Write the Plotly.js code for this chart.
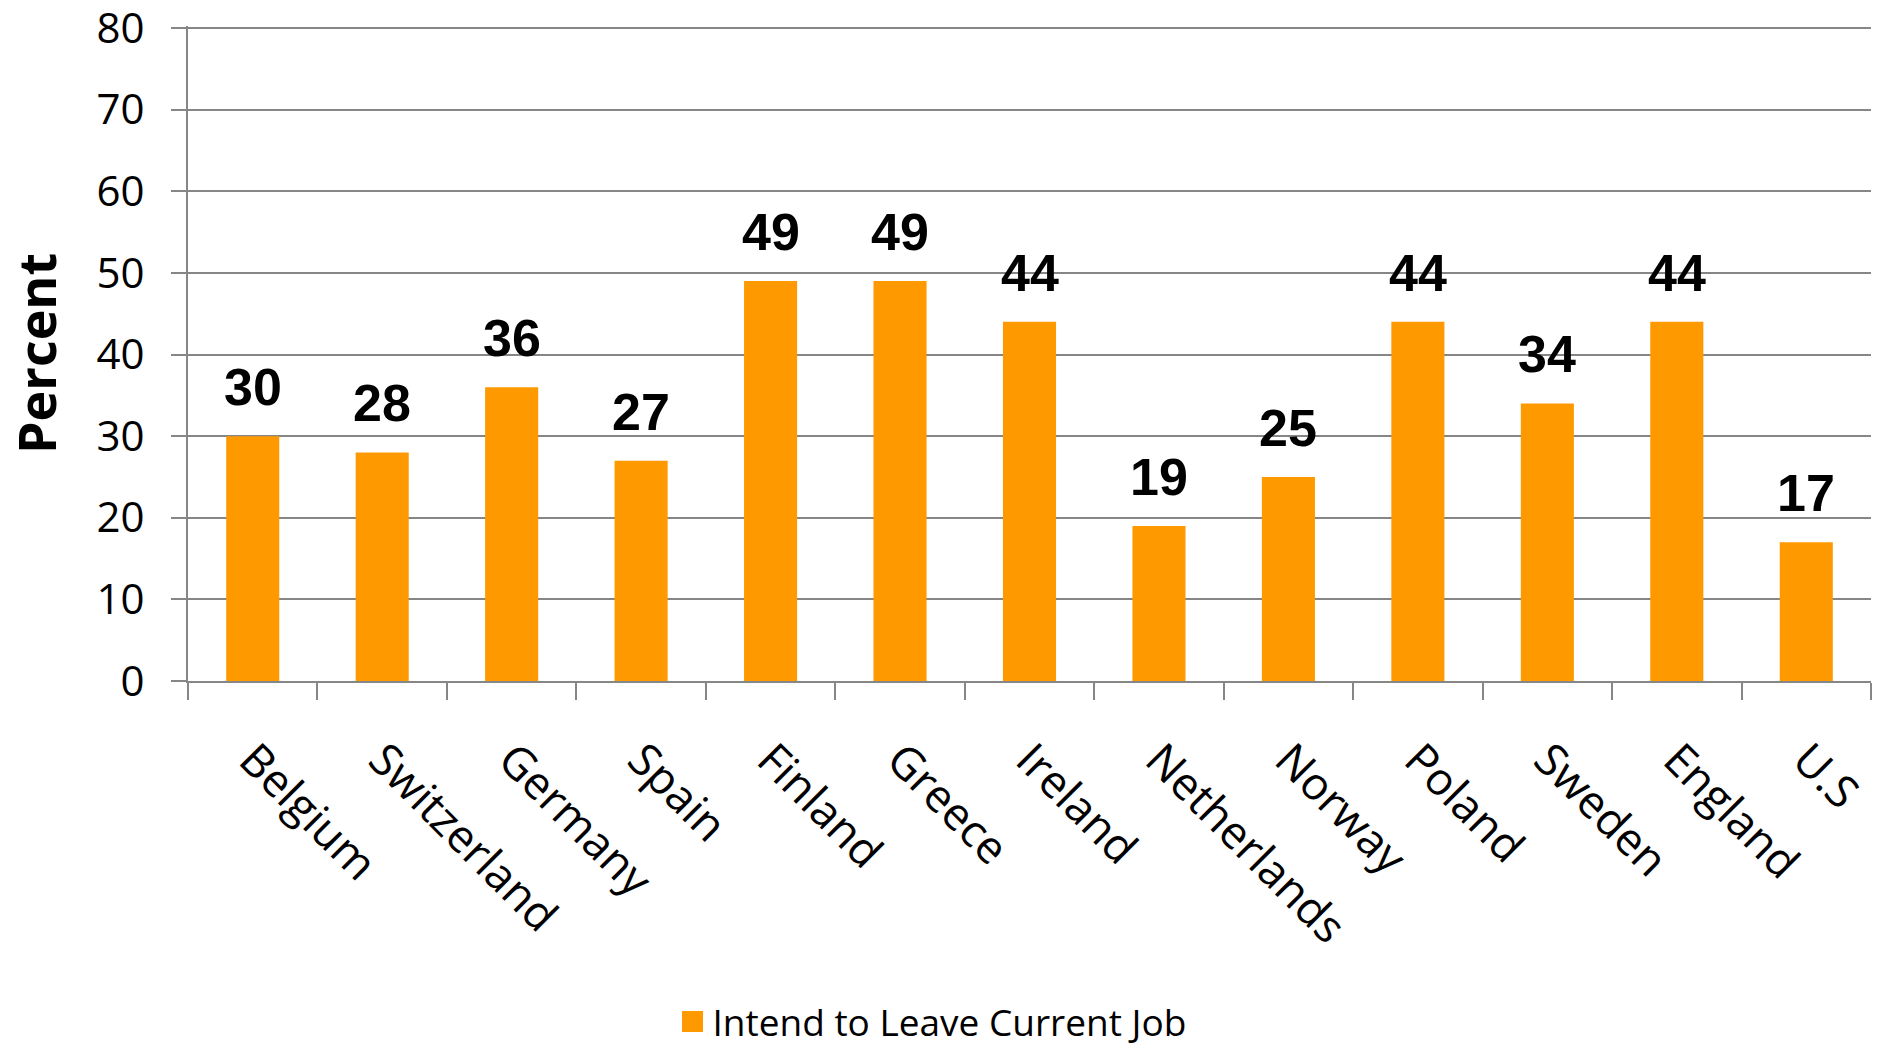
<!DOCTYPE html>
<html>
<head>
<meta charset="utf-8">
<script src="https://cdn.plot.ly/plotly-3.0.1.min.js"></script>
<style>html,body{margin:0;padding:0;background:#fff;}#chart{width:1879px;height:1045px;}</style>
</head>
<body>
<div id="chart"></div>
<script>
const countries = ["Belgium","Switzerland","Germany","Spain","Finland","Greece","Ireland","Netherlands","Norway","Poland","Sweden","England","U.S"];
const intendToLeave = [30,28,36,27,49,49,44,19,25,44,34,44,17];
const seriesName = "Intend to Leave Current Job";
const yTicks = [0,10,20,30,40,50,60,70,80];

const GRID = "#868686";
const ORANGE = "#FF9900";

const barTrace = {
  type: "bar",
  x: countries,
  y: intendToLeave,
  name: seriesName,
  marker: {color: ORANGE},
  showlegend: false,
  hoverinfo: "x+y"
};

// legend-only entry (larger square key, like the reference)
const legendKey = {
  type: "scatter",
  mode: "markers",
  x: [countries[0]],
  y: [null],
  name: seriesName,
  marker: {symbol: "square", size: 16, color: ORANGE, line: {color: ORANGE, width: 5}},
  showlegend: true,
  hoverinfo: "skip"
};

const annotations = countries.map((c, i) => ({
  x: c, y: intendToLeave[i], xref: "x", yref: "y",
  text: String(intendToLeave[i]),
  showarrow: false, yanchor: "bottom", yshift: 18,
  font: {family: "Liberation Sans, Arial, sans-serif", size: 52, color: "#000", weight: "bold"}
}));

const layout = {
  width: 1879, height: 1045,
  margin: {l: 188, r: 8, t: 26, b: 364, autoexpand: false},
  paper_bgcolor: "#fff", plot_bgcolor: "#fff",
  bargap: 0.59,
  font: {family: "Open Sans, sans-serif", color: "#000"},
  xaxis: {
    type: "category",
    range: [-0.5, countries.length - 0.5],
    showline: true, linecolor: GRID, linewidth: 2,
    ticks: "outside", ticklen: 17, tickwidth: 2, tickcolor: GRID,
    tickson: "boundaries",
    tickangle: 45,
    ticklabelstandoff: 32,
    ticklabeloverflow: "allow",
    tickfont: {family: "Open Sans, sans-serif", size: 45, color: "#000"},
    showgrid: false, automargin: false
  },
  yaxis: {
    range: [0, 80.25], tickvals: yTicks,
    showline: true, linecolor: GRID, linewidth: 2,
    showgrid: true, gridcolor: GRID, gridwidth: 2,
    zeroline: false,
    ticks: "outside", ticklen: 15, tickwidth: 2, tickcolor: GRID,
    ticklabelstandoff: 18,
    ticklabeloverflow: "allow",
    tickfont: {family: "Open Sans, sans-serif", size: 42, color: "#000"},
    title: {text: "Percent", standoff: 32, font: {family: "Open Sans, sans-serif", size: 52, color: "#000", weight: "bold"}},
    automargin: false
  },
  legend: {
    orientation: "h",
    xref: "container", yref: "container",
    x: 0.496, xanchor: "center",
    y: 0.022, yanchor: "middle",
    font: {family: "Open Sans, sans-serif", size: 37, color: "#000"}
  },
  annotations: annotations
};

Plotly.newPlot("chart", [barTrace, legendKey], layout, {displayModeBar: false, staticPlot: true});
</script>
</body>
</html>
